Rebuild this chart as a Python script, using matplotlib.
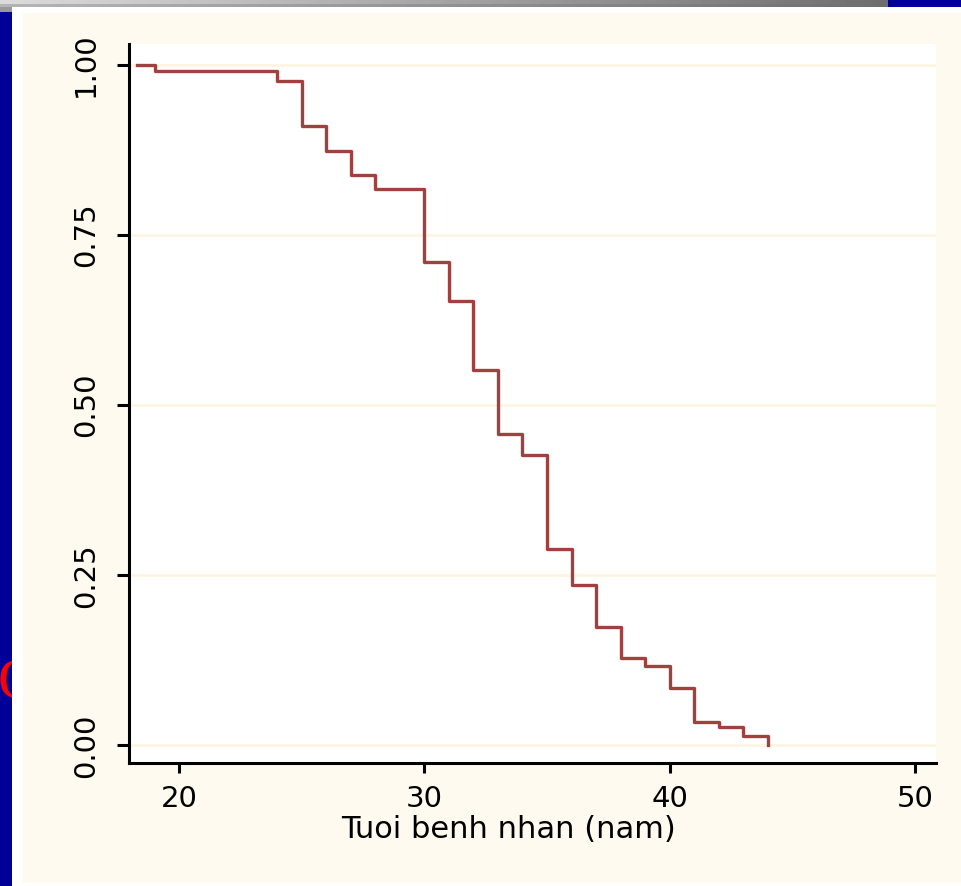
import numpy as np
import matplotlib
matplotlib.use("Agg")
from matplotlib import pyplot as plt
from matplotlib.patches import Rectangle

# Kaplan-Meier steps
times = [18.3, 19, 24, 25, 26, 27, 28, 30, 31, 32, 33, 34, 35, 36, 37, 38, 39, 40, 41, 42, 43, 44]
surv = [1.0, 0.991, 0.977, 0.910, 0.874, 0.839, 0.818, 0.711, 0.653, 0.552, 0.458, 0.427,
        0.288, 0.235, 0.174, 0.129, 0.117, 0.084, 0.035, 0.027, 0.014, 0.0]
xticks = [20, 30, 40, 50]
yticks = [0.0, 0.25, 0.5, 0.75, 1.0]
ytick_labels = ["0.00", "0.25", "0.50", "0.75", "1.00"]

W, H = 961, 886
fig = plt.figure(figsize=(W / 100, H / 100), dpi=100, facecolor="white")

def px_rect(x0, y0, x1, y1, color, z):
    # rectangle given in pixel coords (top-left origin)
    fig.patches.append(Rectangle((x0 / W, 1 - y1 / H), (x1 - x0) / W, (y1 - y0) / H,
                                 transform=fig.transFigure, color=color, zorder=z, lw=0))

# slide decoration
px_rect(0, 12, 12, H, "#000099", 0)
px_rect(0, 7, 12, 12, "#999999", 0)
px_rect(888, 0, W, 7, "#000099", 0)
fig.text(-0.002, 1 - 698 / H, "Q", color="red", fontsize=42, family="Liberation Serif",
         ha="left", va="baseline", zorder=0.5)
px_rect(12, 12, W, H, "white", 1)
px_rect(23, 13, W, 883, "#fffaf0", 1.2)

# gray gradient bar on top (two bands, light left -> dark right)
gax = fig.add_axes([0, 1 - 7 / H, 888 / W, 7 / H])
grad = np.vstack([np.linspace(0.86, 0.43, 256)] * 4 + [np.linspace(0.71, 0.43, 256)] * 3)
gax.imshow(grad, aspect="auto", cmap="gray", vmin=0, vmax=1, interpolation="nearest")
gax.axis("off")

ax = fig.add_axes([129 / W, 1 - 763 / H, (936 - 129) / W, (763 - 44) / H])
ax.set_zorder(5)
ax.set_facecolor("white")

ax.step(times, surv, where="post", color="#a0403f", lw=2.4, zorder=3)

ax.set_xlim(17.96, 50.86)
ax.set_ylim(-0.026, 1.031)
ax.set_xticks(xticks)
ax.set_yticks(yticks)
ax.set_yticklabels(ytick_labels)
ax.yaxis.grid(True, color="#fdf5e2", lw=2, zorder=1)
ax.set_axisbelow(True)

for s in ["top", "right"]:
    ax.spines[s].set_visible(False)
for s in ["left", "bottom"]:
    ax.spines[s].set_linewidth(2.2)

ax.tick_params(axis="x", length=7.5, width=2.2, pad=8, labelsize=21)
ax.tick_params(axis="y", length=8.6, width=2.2, pad=12.5, labelsize=21, labelrotation=90)
for lab in ax.get_yticklabels():
    lab.set_va("center")

ax.set_xlabel("Tuoi benh nhan (nam)", fontsize=22, x=0.47, labelpad=2)

fig.savefig("out.png", dpi=100, facecolor=fig.get_facecolor())
